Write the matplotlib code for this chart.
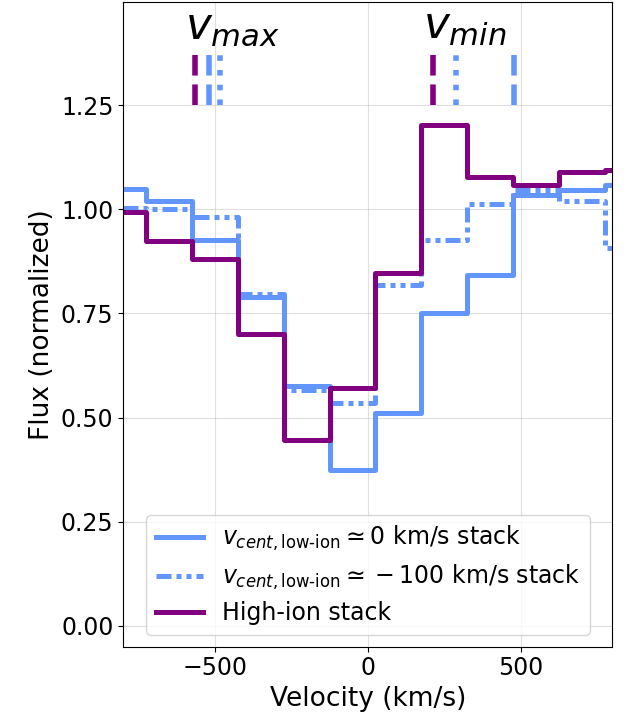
import numpy as np
import matplotlib
matplotlib.use("Agg")
import matplotlib.pyplot as plt

# stacked spectra, binned in 150 km/s steps
velocity = [-800, -650, -500, -350, -200, -50, 100, 250, 400, 550, 700, 850]
flux_low_0 = [1.048, 1.020, 0.926, 0.790, 0.576, 0.375, 0.512, 0.750, 0.842, 1.035, 1.045, 1.058]
flux_low_100 = [1.002, 1.000, 0.981, 0.797, 0.567, 0.535, 0.818, 0.925, 1.013, 1.045, 1.020, 0.908]
flux_high = [0.994, 0.924, 0.880, 0.700, 0.445, 0.571, 0.847, 1.202, 1.077, 1.058, 1.090, 1.093]

# v_max / v_min of each stack
vmax_high, vmax_low_0, vmax_low_100 = -567, -518, -485
vmin_high, vmin_low_0, vmin_low_100 = 213, 478, 290

blue = '#6396FC'
purple = 'purple'
dashdotdot = (0, (3, 1, 1, 1, 1, 1))

fig = plt.figure(figsize=(6.3, 7.24), dpi=100)
ax = fig.add_axes([123.3/630, 1-646.7/724, 489/630, 645/724])

ax.step(velocity, flux_low_0, where='mid', color=blue, lw=3.6,
        label=r'$v_{cent,\text{low-ion}} \simeq 0$ km/s stack')
ax.step(velocity, flux_low_100, where='mid', color=blue, lw=3.6, ls=dashdotdot,
        label=r'$v_{cent,\text{low-ion}} \simeq -100$ km/s stack')
ax.step(velocity, flux_high, where='mid', color=purple, lw=3.6,
        label='High-ion stack')

# velocity markers
ax.vlines([vmax_high, vmin_high], 1.25, 1.37, color=purple, lw=4, ls='--')
ax.vlines([vmax_low_0, vmin_low_0], 1.25, 1.37, color=blue, lw=4, ls='--')
ax.vlines([vmax_low_100, vmin_low_100], 1.25, 1.37, color=blue, lw=4, ls=':')
ax.text(-597, 1.41, r'$v_{max}$', fontsize=31.5, ha='left', va='baseline')
ax.text(181, 1.41, r'$v_{min}$', fontsize=31.5, ha='left', va='baseline')

ax.set_xlim(-800, 800)
ax.set_ylim(-0.05, 1.498)
ax.set_xticks([-500, 0, 500])
ax.set_yticks([0, 0.25, 0.5, 0.75, 1.0, 1.25])
ax.tick_params(labelsize=17)
ax.grid(alpha=0.4)
ax.set_xlabel('Velocity (km/s)', fontsize=19)
ax.set_ylabel('Flux (normalized)', fontsize=19)
ax.legend(loc='lower center', fontsize=17, labelspacing=0.4)

fig.savefig('out.png', dpi=100)
